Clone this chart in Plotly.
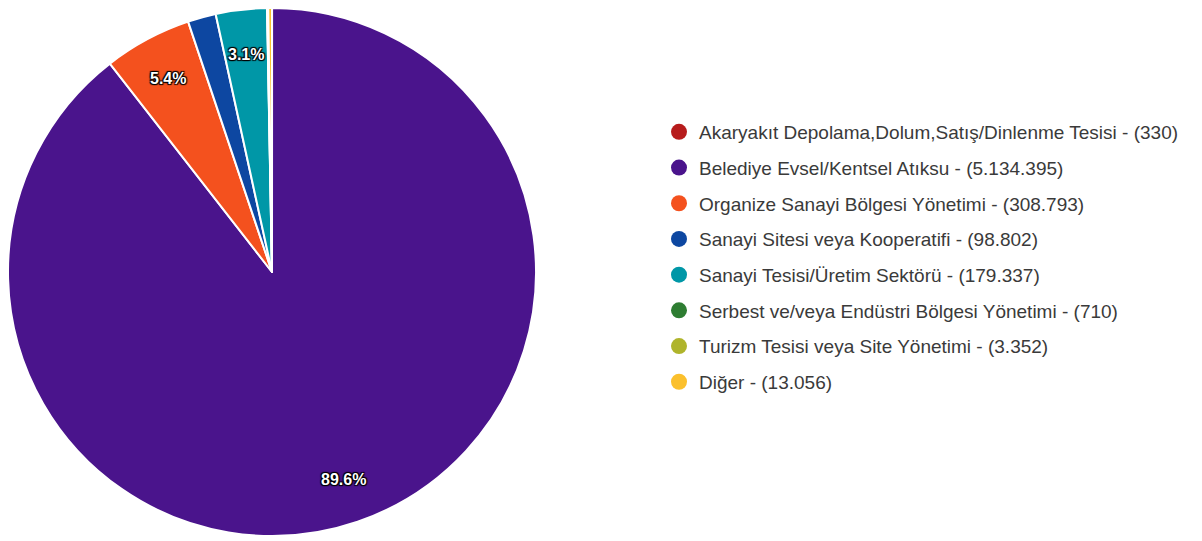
import math
import plotly.graph_objects as go

# Waste sources and amounts
categories = [
    "Akaryakıt Depolama,Dolum,Satış/Dinlenme Tesisi",
    "Belediye Evsel/Kentsel Atıksu",
    "Organize Sanayi Bölgesi Yönetimi",
    "Sanayi Sitesi veya Kooperatifi",
    "Sanayi Tesisi/Üretim Sektörü",
    "Serbest ve/veya Endüstri Bölgesi Yönetimi",
    "Turizm Tesisi veya Site Yönetimi",
    "Diğer",
]
amounts = [330, 5134395, 308793, 98802, 179337, 710, 3352, 13056]
amount_labels = ["330", "5.134.395", "308.793", "98.802", "179.337", "710", "3.352", "13.056"]
slice_labels = ["", "89.6%", "5.4%", "", "3.1%", "", "", ""]
colors = ["#B71C1C", "#4A148C", "#F4511E", "#0D47A1",
          "#0097A7", "#2E7D32", "#AFB42B", "#FBC02D"]

W, H = 1202, 541
cx, cy, r = 272, 272, 264
label_radius = 0.83  # data labels sit inside the rim

fig = go.Figure()

fig.add_trace(go.Pie(
    labels=categories,
    values=amounts,
    textinfo="none",
    sort=False,
    direction="clockwise",
    rotation=0,
    marker=dict(colors=colors, line=dict(color="white", width=2)),
    domain=dict(x=[(cx - r) / W, (cx + r) / W],
                y=[1 - (cy + r) / H, 1 - (cy - r) / H]),
    showlegend=False,
    hoverinfo="label+value+percent",
))

# Percentage labels placed along each slice's mid-angle
total = sum(amounts)
cum = 0
for amt, lab in zip(amounts, slice_labels):
    mid = (cum + amt / 2) / total * 2 * math.pi
    cum += amt
    if not lab:
        continue
    px = cx + label_radius * r * math.sin(mid)
    py = cy - label_radius * r * math.cos(mid)
    fig.add_annotation(
        x=px / W, y=1 - py / H, xref="paper", yref="paper",
        xanchor="center", yanchor="middle",
        text=lab, showarrow=False,
        font=dict(family="Liberation Sans, Arial", size=16, color="white",
                  weight="bold",
                  shadow="1px 1px 1px #000, -1px -1px 1px #000, 1px -1px 1px #000, -1px 1px 1px #000"),
    )

# Legend entries with round markers
for i, (name, amt, col) in enumerate(zip(categories, amount_labels, colors)):
    fig.add_trace(go.Scatter(
        x=[None], y=[None], mode="markers",
        name=f"{name} - ({amt})",
        legendgroup=f"g{i}",
        marker=dict(color=col, size=16, symbol="circle"),
        hoverinfo="skip",
    ))

fig.update_layout(
    width=W, height=H,
    margin=dict(l=0, r=0, t=0, b=0),
    paper_bgcolor="white",
    plot_bgcolor="white",
    xaxis=dict(visible=False),
    yaxis=dict(visible=False),
    legend=dict(
        x=659 / W, y=1 - 113 / H, xanchor="left", yanchor="top",
        font=dict(family="Liberation Sans, Arial", size=19, color="#3a3a3a"),
        tracegroupgap=8,
        itemsizing="trace",
        bgcolor="rgba(0,0,0,0)",
    ),
)

fig.write_html("out.html")
